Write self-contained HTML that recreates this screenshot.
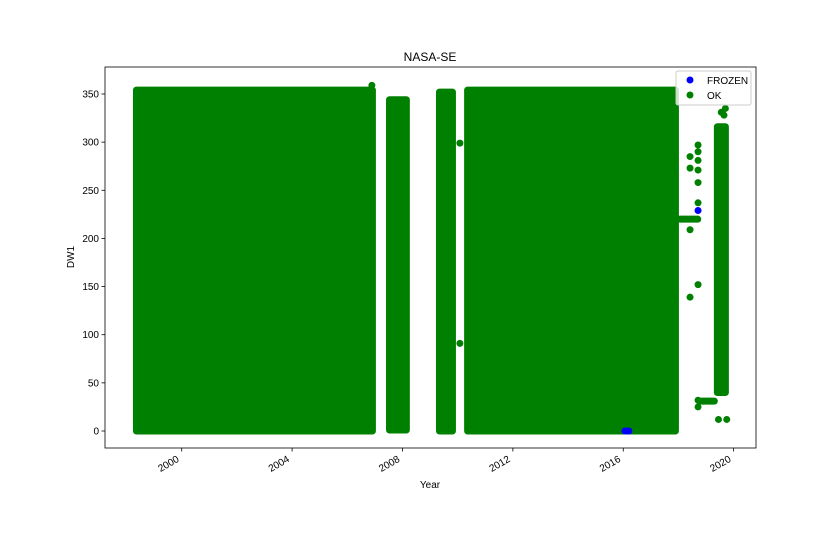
<!DOCTYPE html>
<html><head><meta charset="utf-8"><style>
body{margin:0;background:#fff;}
svg{display:block;font-family:"Liberation Sans","DejaVu Sans",sans-serif;}
</style></head><body>
<svg id="chart" width="840" height="560" viewBox="0 0 840 560" xmlns="http://www.w3.org/2000/svg">
<rect width="840" height="560" fill="#fff"/>
<text x="430" y="61" font-size="12" text-anchor="middle" fill="#000">NASA-SE</text>
<g id="plot"></g>
<g id="axes"></g>
<text x="0" y="0" font-size="10" text-anchor="middle" transform="translate(74,257) rotate(-90)">DW1</text>
<text x="430" y="488" font-size="10" text-anchor="middle">Year</text>
<g>
<rect x="676" y="71" width="75" height="34" fill="#fff" fill-opacity="0.8" stroke="#ccc" rx="2"/>
<circle cx="690" cy="80" r="3.5" fill="#0000ff"/>
<text x="707" y="84" font-size="10">FROZEN</text>
<circle cx="690" cy="95" r="3.5" fill="#008000"/>
<text x="707" y="99" font-size="10">OK</text>
</g>
</svg>
<script>
// dense OK blocks: time range (years) and value range
const blockStart = [1998.36, 2007.53, 2009.34, 2010.36, 2019.41];
const blockEnd   = [2006.91, 2008.14, 2009.81, 2017.89, 2019.70];
const blockMin   = [0, 1, 0, 0, 40];
const blockMax   = [354, 344, 352, 354, 316];
// sparse OK points
const okYears  = [2006.89, 2010.08, 2010.08, 2018.42, 2018.42, 2018.42, 2018.42, 2018.71, 2018.71, 2018.71, 2018.71, 2018.71, 2018.71, 2018.71, 2018.71, 2018.71, 2019.55, 2019.65, 2019.70, 2019.45, 2019.75];
const okValues = [359, 299, 91, 285, 273, 209, 139, 297, 290, 281, 271, 258, 237, 152, 32, 25, 331, 328, 335, 12, 12];
// horizontal runs of OK points
const runStart = [2018.05, 2018.83];
const runEnd   = [2018.70, 2019.30];
const runValue = [220, 31];
// FROZEN points
const frozenYears  = [2016.06, 2016.13, 2016.20, 2018.71];
const frozenValues = [0, 0, 0, 229];
// ticks
const xTicks = [2000, 2004, 2008, 2012, 2016, 2020];
const yTicks = [0, 50, 100, 150, 200, 250, 300, 350];

const L=105,R=756,T=67,B=448;
const xMin=1997.22,xMax=2020.81;
const x=v=>L+(v-xMin)/(xMax-xMin)*(R-L);
const y=v=>431-v*(337/350);
const NS='http://www.w3.org/2000/svg';
const plot=document.getElementById('plot');
const axes=document.getElementById('axes');
function mk(tag,attrs,parent){const e=document.createElementNS(NS,tag);for(const k in attrs)e.setAttribute(k,attrs[k]);parent.appendChild(e);return e;}
const r=3.5, G='#008000';
for(let i=0;i<blockStart.length;i++){
  const e=mk('rect',{x:x(blockStart[i])-r,y:y(blockMax[i])-r,width:x(blockEnd[i])-x(blockStart[i])+2*r,height:y(blockMin[i])-y(blockMax[i])+2*r,rx:r,fill:G},plot);
  
  
}
for(let i=0;i<runStart.length;i++){
  const e=mk('rect',{x:x(runStart[i])-r,y:y(runValue[i])-r,width:x(runEnd[i])-x(runStart[i])+2*r,height:2*r,rx:r,fill:G},plot);
  
  
}
for(let i=0;i<okYears.length;i++){
  const e=mk('circle',{cx:x(okYears[i]),cy:y(okValues[i]),r:r,fill:G},plot);
  
  
}
for(let i=0;i<frozenYears.length;i++){
  const e=mk('circle',{cx:x(frozenYears[i]),cy:y(frozenValues[i]),r:r,fill:'#0000ff'},plot);
  
  
}
const f=mk('rect',{x:L,y:T,width:R-L,height:B-T,fill:'none',stroke:'#000','stroke-width':0.8},axes);


xTicks.forEach(t=>{
  const tx=x(t);
  const l=mk('line',{x1:tx,x2:tx,y1:B,y2:B+3.5,stroke:'#000','stroke-width':0.8},axes);
  
  
  const s=mk('text',{x:0,y:0,'font-size':10,'text-anchor':'end',transform:`translate(${tx-2},${B+13}) rotate(-30)`},axes);
  s.textContent=t;
  
  
});
yTicks.forEach(t=>{
  const ty=y(t);
  const l=mk('line',{x1:L-3.5,x2:L,y1:ty,y2:ty,stroke:'#000','stroke-width':0.8},axes);
  
  
  const s=mk('text',{x:L-6,y:ty+3.5,'font-size':10,'text-anchor':'end'},axes);
  s.textContent=t;
  
  
});
</script>
</body></html>
